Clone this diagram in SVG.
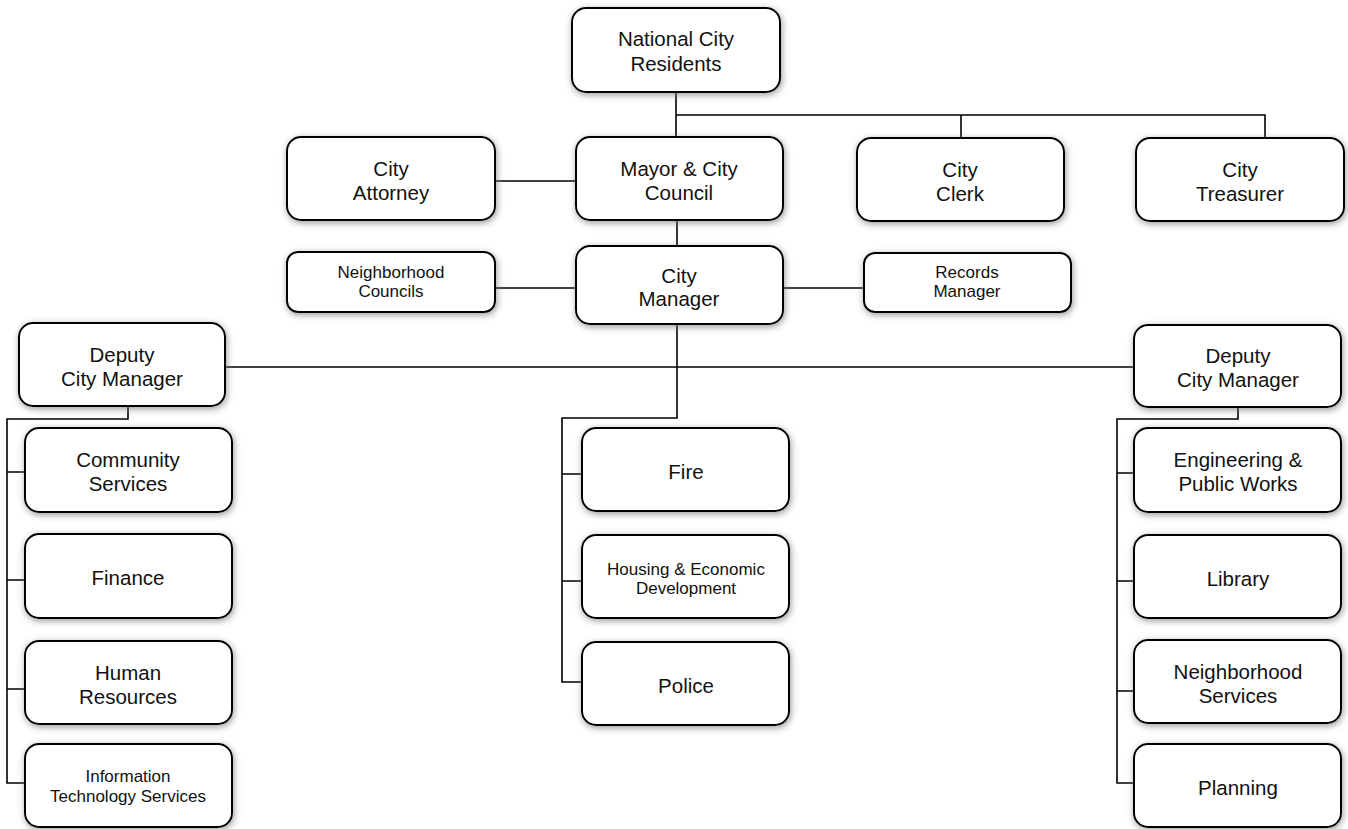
<svg xmlns="http://www.w3.org/2000/svg" width="1348" height="829" viewBox="0 0 1348 829">
<defs>
<filter id="sh" x="-20%" y="-30%" width="140%" height="160%">
<feDropShadow dx="1" dy="2" stdDeviation="3.5" flood-color="#777" flood-opacity="0.75"/>
</filter>
<style>
.b{fill:#fff;stroke:#000;stroke-width:2;filter:url(#sh)}
.t{font-family:"Liberation Sans",Arial,sans-serif;font-size:20.5px;fill:#111;text-anchor:middle}
.s{font-family:"Liberation Sans",Arial,sans-serif;font-size:17px;fill:#111;text-anchor:middle}
.c{fill:none;stroke:#000;stroke-width:1.6}
</style>
</defs>
<rect width="1348" height="829" fill="#fff"/>
<g id="connectors">
<path class="c" d="M676,92V137M676,115H1265V138M961,115V138"/>
<path class="c" d="M495,181H576"/>
<path class="c" d="M677,220V246"/>
<path class="c" d="M495,288H576M783,288H864"/>
<path class="c" d="M225,367H1134M677,324V418H562V682H582M562,474H582M562,581H582"/>
<path class="c" d="M128,406V419H7V783H25M7,472H25M7,580H25M7,689H25"/>
<path class="c" d="M1238,407V419H1117V783H1134M1117,473H1134M1117,581H1134M1117,691H1134"/>
</g>
<g id="residents"><rect class="b" x="572" y="8" width="208" height="84" rx="14"/><text class="t" x="676" y="46">National City</text><text class="t" x="676" y="71">Residents</text></g>
<g id="attorney"><rect class="b" x="287" y="137" width="208" height="83" rx="14"/><text class="t" x="391" y="176">City</text><text class="t" x="391" y="200">Attorney</text></g>
<g id="mayor"><rect class="b" x="576" y="137" width="207" height="83" rx="14"/><text class="t" x="679" y="176">Mayor &amp; City</text><text class="t" x="679" y="200">Council</text></g>
<g id="clerk"><rect class="b" x="857" y="138" width="207" height="83" rx="14"/><text class="t" x="960" y="177">City</text><text class="t" x="960" y="201">Clerk</text></g>
<g id="treasurer"><rect class="b" x="1136" y="138" width="208" height="83" rx="14"/><text class="t" x="1240" y="177">City</text><text class="t" x="1240" y="201">Treasurer</text></g>
<g id="neighborhood-councils"><rect class="b" x="287" y="252" width="208" height="60" rx="11"/><text class="s" x="391" y="278">Neighborhood</text><text class="s" x="391" y="297">Councils</text></g>
<g id="city-manager"><rect class="b" x="576" y="246" width="207" height="78" rx="14"/><text class="t" x="679" y="283">City</text><text class="t" x="679" y="306">Manager</text></g>
<g id="records-manager"><rect class="b" x="864" y="253" width="207" height="59" rx="11"/><text class="s" x="967" y="278">Records</text><text class="s" x="967" y="297">Manager</text></g>
<g id="deputy-left"><rect class="b" x="19" y="323" width="206" height="83" rx="14"/><text class="t" x="122" y="362">Deputy</text><text class="t" x="122" y="386">City Manager</text></g>
<g id="deputy-right"><rect class="b" x="1134" y="325" width="207" height="82" rx="14"/><text class="t" x="1238" y="363">Deputy</text><text class="t" x="1238" y="387">City Manager</text></g>
<g id="community-services"><rect class="b" x="25" y="428" width="207" height="84" rx="14"/><text class="t" x="128" y="467">Community</text><text class="t" x="128" y="491">Services</text></g>
<g id="finance"><rect class="b" x="25" y="534" width="207" height="84" rx="14"/><text class="t" x="128" y="585">Finance</text></g>
<g id="human-resources"><rect class="b" x="25" y="641" width="207" height="83" rx="14"/><text class="t" x="128" y="680">Human</text><text class="t" x="128" y="704">Resources</text></g>
<g id="info-tech"><rect class="b" x="25" y="744" width="207" height="83" rx="14"/><text class="s" x="128" y="782">Information</text><text class="s" x="128" y="802">Technology Services</text></g>
<g id="fire"><rect class="b" x="582" y="428" width="207" height="83" rx="14"/><text class="t" x="686" y="479">Fire</text></g>
<g id="housing"><rect class="b" x="582" y="535" width="207" height="83" rx="14"/><text class="s" x="686" y="575">Housing &amp; Economic</text><text class="s" x="686" y="594">Development</text></g>
<g id="police"><rect class="b" x="582" y="642" width="207" height="83" rx="14"/><text class="t" x="686" y="693">Police</text></g>
<g id="engineering"><rect class="b" x="1134" y="428" width="207" height="84" rx="14"/><text class="t" x="1238" y="467">Engineering &amp;</text><text class="t" x="1238" y="491">Public Works</text></g>
<g id="library"><rect class="b" x="1134" y="535" width="207" height="83" rx="14"/><text class="t" x="1238" y="586">Library</text></g>
<g id="neighborhood-services"><rect class="b" x="1134" y="640" width="207" height="83" rx="14"/><text class="t" x="1238" y="679">Neighborhood</text><text class="t" x="1238" y="703">Services</text></g>
<g id="planning"><rect class="b" x="1134" y="744" width="207" height="83" rx="14"/><text class="t" x="1238" y="795">Planning</text></g>
</svg>
